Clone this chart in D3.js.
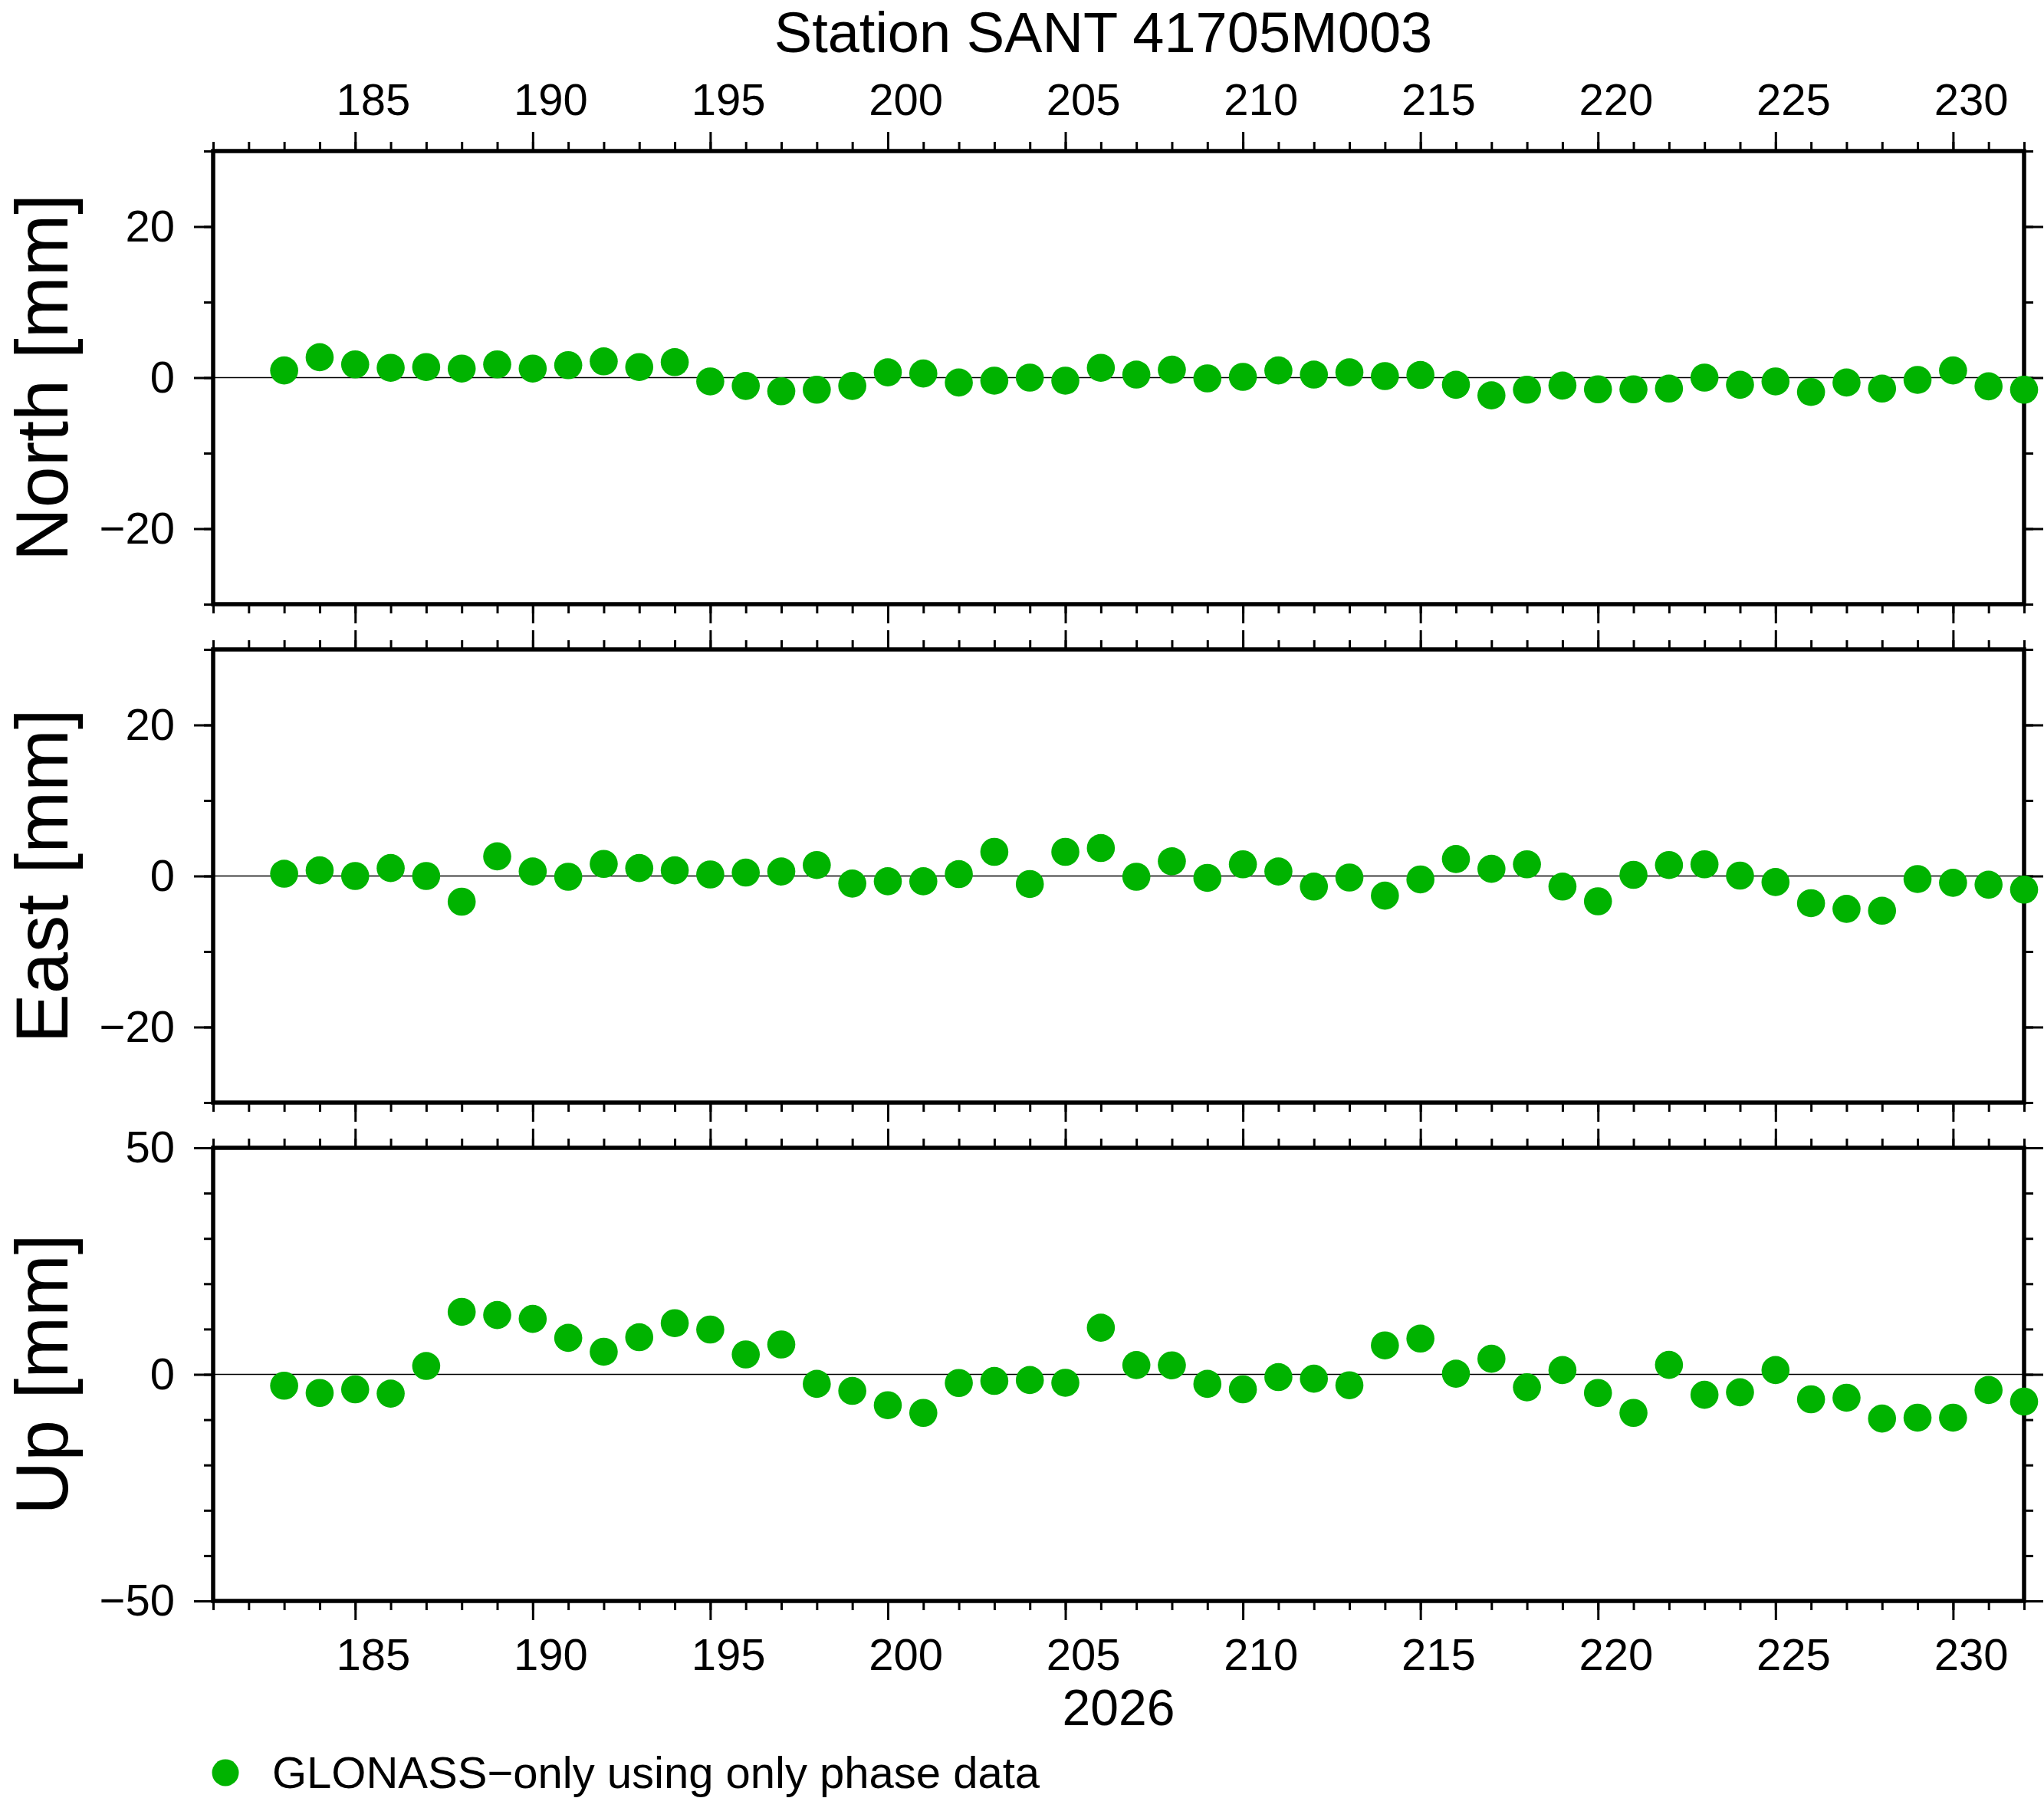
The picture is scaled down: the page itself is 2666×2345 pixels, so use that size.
<!DOCTYPE html>
<html>
<head>
<meta charset="utf-8">
<script src="https://cdn.jsdelivr.net/npm/d3@7"></script>
<style>
body { margin: 0; background: #fff; }
svg { display: block; }
text { font-family: "Liberation Sans", Arial, Helvetica, sans-serif; fill: #000; }
</style>
</head>
<body>
<div id="canvas-container"></div>
<script>
// day of year 2026
var days = [183, 184, 185, 186, 187, 188, 189, 190, 191, 192, 193, 194, 195, 196, 197, 198, 199,
    200, 201, 202, 203, 204, 205, 206, 207, 208, 209, 210, 211, 212, 213, 214, 215, 216, 217,
    218, 219, 220, 221, 222, 223, 224, 225, 226, 227, 228, 229, 230, 231, 232];

// residuals in mm
var north = [0.95, 2.7, 1.75, 1.3, 1.4, 1.2, 1.75, 1.2, 1.65, 2.15, 1.4, 2.05, -0.5, -1.1, -1.8,
    -1.6, -1.1, 0.7, 0.55, -0.65, -0.4, 0, -0.4, 1.3, 0.4, 1.05, -0.1, 0.1, 0.95, 0.4, 0.7, 0.2,
    0.35, -0.95, -2.35, -1.6, -1.05, -1.55, -1.55, -1.45, 0, -0.95, -0.5, -1.9, -0.65, -1.45,
    -0.3, 0.95, -1.15, -1.6];
var east = [0.3, 0.75, 0, 1.05, 0, -3.4, 2.6, 0.6, -0.1, 1.6, 1.05, 0.75, 0.2, 0.45, 0.6, 1.45,
    -1.0, -0.7, -0.7, 0.25, 3.2, -1.06, 3.2, 3.7, -0.1, 1.95, -0.25, 1.55, 0.6, -1.4, -0.2, -2.6,
    -0.45, 2.25, 0.95, 1.55, -1.4, -3.35, 0.15, 1.45, 1.55, 0.05, -0.8, -3.6, -4.35, -4.6, -0.4,
    -0.9, -1.15, -1.8];
var up = [-2.5, -4.1, -3.3, -4.25, 1.85, 13.8, 13.1, 12.25, 8.05, 5.0, 8.2, 11.3, 9.9, 4.4, 6.6,
    -2.1, -3.65, -6.8, -8.5, -1.9, -1.45, -1.25, -1.85, 10.3, 2.05, 2.0, -2.1, -3.3, -0.6, -0.95,
    -2.4, 6.4, 7.9, 0.15, 3.45, -2.85, 0.95, -4.1, -8.5, 2.1, -4.5, -3.95, 0.95, -5.5, -5.15,
    -9.75, -9.55, -9.55, -3.45, -6.0];

var panelNames = ["North [mm]", "East [mm]", "Up [mm]"];
var panelRanges = [[-30, 30], [-30, 30], [-50, 50]];
var panelMajor = [[-20, 0, 20], [-20, 0, 20], [-50, 0, 50]];
var panelMinor = [[-30, -20, -10, 0, 10, 20, 30], [-30, -20, -10, 0, 10, 20, 30],
    [-50, -40, -30, -20, -10, 0, 10, 20, 30, 40, 50]];
var panelValues = [north, east, up];

var xDomain = [181, 232];
var xMajor = [185, 190, 195, 200, 205, 210, 215, 220, 225, 230];
var xLabels = [185, 190, 195, 200, 205, 210, 215, 220, 225, 230];
var yearLabel = "2026";
var title = "Station SANT 41705M003";
var legendText = "GLONASS\u2212only using only phase data";

var w = 2666, h = 2345;
var left = 278, right = 2640;
var ph = 591;
var tops = [197, 847, 1497];
var dotr = 18.3;
var green = "#00b300";
var fs = 58;

var svg = d3.select("#canvas-container").append("svg")
    .attr("width", w)
    .attr("height", h);

var x = d3.scaleLinear().domain(xDomain).range([left, right]);
var xMinor = d3.range(xDomain[0], xDomain[1] + 1);

function styleAxis(g, width) {
    g.select(".domain").remove();
    g.selectAll(".tick line").attr("stroke", "#000").attr("stroke-width", width);
    g.selectAll(".tick text").style("font-size", fs + "px")
        .style("font-family", "'Liberation Sans', Arial, Helvetica, sans-serif")
        .attr("fill", "#000");
}

function drawPanel(i) {
    var top = tops[i], bottom = top + ph;
    var y = d3.scaleLinear().domain(panelRanges[i]).range([bottom, top]);
    var g = svg.append("g");

    // x ticks, top and bottom
    g.append("g").attr("transform", "translate(0," + top + ")")
        .call(d3.axisTop(x).tickValues(xMinor).tickSize(12).tickFormat(""))
        .call(styleAxis, 3);
    g.append("g").attr("transform", "translate(0," + top + ")")
        .call(d3.axisTop(x).tickValues(xMajor).tickSize(25).tickFormat(""))
        .call(styleAxis, 3);
    g.append("g").attr("transform", "translate(0," + bottom + ")")
        .call(d3.axisBottom(x).tickValues(xMinor).tickSize(12).tickFormat(""))
        .call(styleAxis, 3);
    g.append("g").attr("transform", "translate(0," + bottom + ")")
        .call(d3.axisBottom(x).tickValues(xMajor).tickSize(25).tickFormat(""))
        .call(styleAxis, 3);

    // y ticks, left and right
    g.append("g").attr("transform", "translate(" + left + ",0)")
        .call(d3.axisLeft(y).tickValues(panelMinor[i]).tickSize(12).tickFormat(""))
        .call(styleAxis, 3);
    g.append("g").attr("transform", "translate(" + left + ",0)")
        .call(d3.axisLeft(y).tickValues(panelMajor[i]).tickSize(25).tickPadding(25)
            .tickFormat(d3.format("d")))
        .call(styleAxis, 3);
    g.append("g").attr("transform", "translate(" + right + ",0)")
        .call(d3.axisRight(y).tickValues(panelMinor[i]).tickSize(12).tickFormat(""))
        .call(styleAxis, 3);
    g.append("g").attr("transform", "translate(" + right + ",0)")
        .call(d3.axisRight(y).tickValues(panelMajor[i]).tickSize(25).tickFormat(""))
        .call(styleAxis, 3);

    // day labels, centred in the day interval
    if (i == 0) {
        g.append("g").attr("transform", "translate(0," + top + ")")
            .call(d3.axisTop(x).tickValues(xLabels.map(function(d) { return d + 0.5; }))
                .tickSize(0).tickPadding(47)
                .tickFormat(function(d) { return Math.floor(d); }))
            .call(styleAxis, 0);
    }
    if (i == 2) {
        g.append("g").attr("transform", "translate(0," + bottom + ")")
            .call(d3.axisBottom(x).tickValues(xLabels.map(function(d) { return d + 0.5; }))
                .tickSize(0).tickPadding(49)
                .tickFormat(function(d) { return Math.floor(d); }))
            .call(styleAxis, 0);
    }

    // zero line
    g.append("line")
        .attr("x1", left).attr("x2", right)
        .attr("y1", y(0)).attr("y2", y(0))
        .attr("stroke", "#000").attr("stroke-width", 1.3);

    // frame
    g.append("rect")
        .attr("x", left).attr("y", top)
        .attr("width", right - left).attr("height", ph)
        .attr("fill", "none").attr("stroke", "#000").attr("stroke-width", 5.5);

    // points
    g.selectAll("circle.pt").data(panelValues[i]).enter().append("circle")
        .attr("class", "pt")
        .attr("cx", function(d, j) { return x(days[j]); })
        .attr("cy", function(d) { return y(d); })
        .attr("r", dotr)
        .attr("fill", green);

    // axis title
    svg.append("text")
        .attr("transform", "translate(88," + (top + ph / 2) + ") rotate(-90)")
        .attr("text-anchor", "middle")
        .style("font-size", "97px")
        .text(panelNames[i]);
}

for (var i = 0; i < 3; i++) {
    drawPanel(i);
}

svg.append("text")
    .attr("x", 1439).attr("y", 68)
    .attr("text-anchor", "middle")
    .style("font-size", "74px")
    .text(title);

svg.append("text")
    .attr("x", (left + right) / 2).attr("y", 2250)
    .attr("text-anchor", "middle")
    .style("font-size", "66px")
    .text(yearLabel);

// legend
svg.append("circle")
    .attr("cx", 294).attr("cy", 2312)
    .attr("r", 17.5)
    .attr("fill", green);
svg.append("text")
    .attr("x", 355).attr("y", 2332)
    .style("font-size", fs + "px")
    .text(legendText);
</script>
</body>
</html>
